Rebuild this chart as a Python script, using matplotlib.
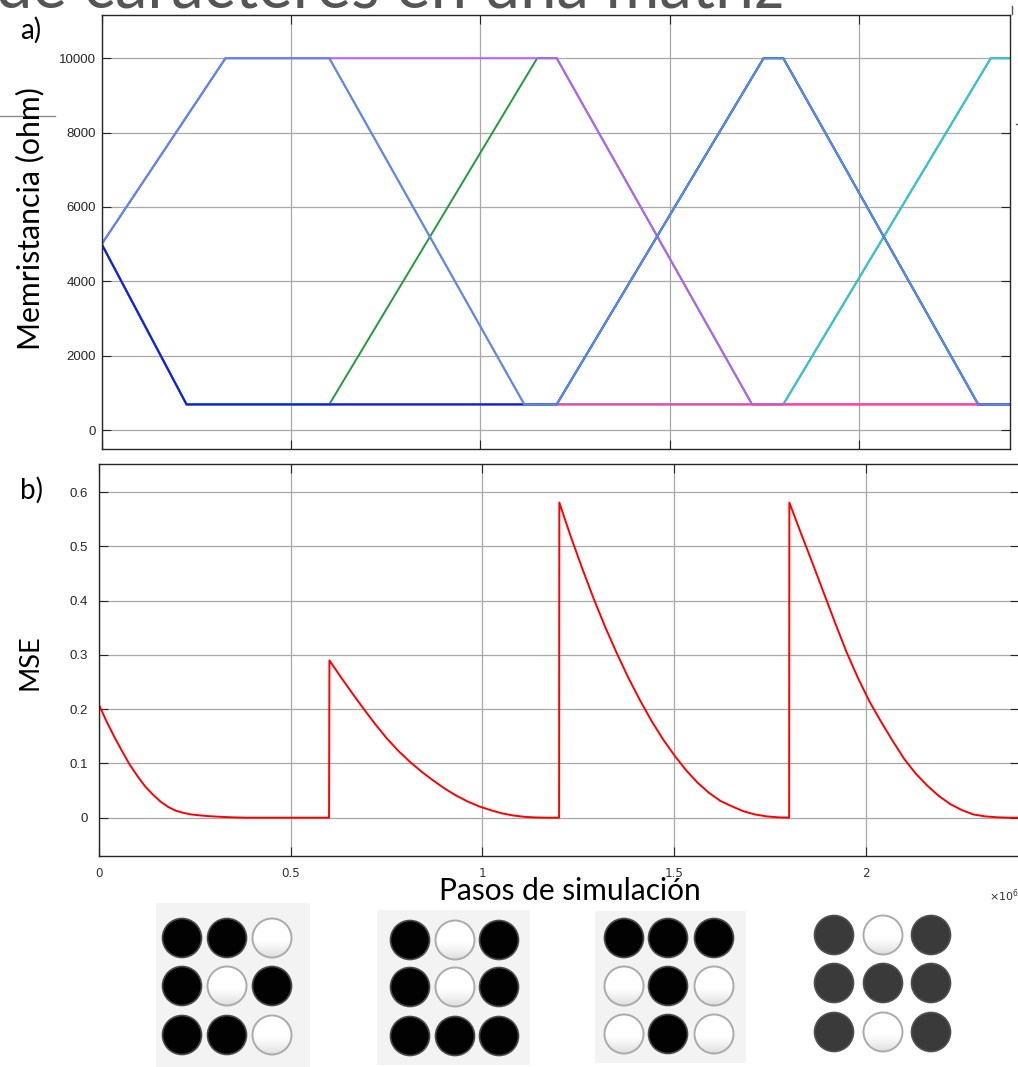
import matplotlib
matplotlib.use("Agg")
import matplotlib.pyplot as plt
import numpy as np
from matplotlib.patches import Circle, Rectangle
from matplotlib.lines import Line2D

# ---------------------------------------------------------------- data
# Simulation steps are given in units of 1e6 steps.
# Memristance trajectories of the nine memristors (3x3 grid), column-major order.
MEM_NAMES = ["m11", "m21", "m31", "m12", "m22", "m32", "m13", "m23", "m33"]
MEM_T = [
    [0, 0.224, 2.4],
    [0, 0.224, 1.2016, 1.748, 1.800, 2.3147, 2.4],
    [0, 0.224, 1.2016, 1.748, 1.800, 2.3147, 2.4],
    [0, 0.224, 0.601, 1.150, 1.2016, 1.7176, 1.800, 2.348, 2.4],
    [0, 0.327, 1.2016, 1.7176, 2.4],
    [0, 0.224, 1.800, 2.348, 2.4],
    [0, 0.327, 0.601, 1.116, 2.4],
    [0, 0.224, 1.2016, 1.748, 1.800, 2.3147, 2.4],
    [0, 0.327, 0.601, 1.116, 1.2016, 1.748, 1.800, 2.3147, 2.4],
]
MEM_R = [
    [5000, 690, 690],
    [5000, 690, 690, 10000, 10000, 690, 690],
    [5000, 690, 690, 10000, 10000, 690, 690],
    [5000, 690, 690, 10000, 10000, 690, 690, 10000, 10000],
    [5000, 10000, 10000, 690, 690],
    [5000, 690, 690, 10000, 10000],
    [5000, 10000, 10000, 690, 690],
    [5000, 690, 690, 10000, 10000, 690, 690],
    [5000, 10000, 10000, 690, 690, 10000, 10000, 690, 690],
]
MEM_COLORS = ["#e08a2c", "#d23b3b", "#c8b82a", "#229a3c", "#bd5cff",
              "#33c6dc", "#ff3fb0", "#1414ff", "#4a94f0"]

# Mean squared error during training (one block per training phase)
MSE_T1 = [0.00, 0.02, 0.04, 0.06, 0.08, 0.10, 0.12, 0.14, 0.16, 0.18,
          0.20, 0.22, 0.24, 0.26, 0.28, 0.30, 0.32, 0.34, 0.36, 0.38, 0.600]
MSE_V1 = [0.208, 0.177, 0.149, 0.123, 0.098, 0.077, 0.058, 0.043, 0.030, 0.020,
          0.013, 0.009, 0.006, 0.0045, 0.0032, 0.0023, 0.0015, 0.0009, 0.0004, 0.0, 0.0]
MSE_T2 = [0.601, 0.631, 0.661, 0.691, 0.721, 0.751, 0.781, 0.811, 0.841, 0.871,
          0.901, 0.931, 0.961, 0.991, 1.021, 1.051, 1.081, 1.111, 1.141, 1.171, 1.200]
MSE_V2 = [0.290, 0.259, 0.229, 0.200, 0.172, 0.146, 0.123, 0.103, 0.085, 0.069,
          0.054, 0.041, 0.030, 0.021, 0.014, 0.008, 0.004, 0.0015, 0.0004, 0.0, 0.0]
MSE_T3 = [1.2006, 1.2306, 1.2606, 1.2906, 1.3206, 1.3506, 1.3806, 1.4106, 1.4406, 1.4706,
          1.5006, 1.5306, 1.5606, 1.5906, 1.6206, 1.6506, 1.6806, 1.7106, 1.7406, 1.7706, 1.800]
MSE_V3 = [0.581, 0.518, 0.459, 0.403, 0.351, 0.303, 0.258, 0.217, 0.179, 0.145,
          0.115, 0.088, 0.065, 0.046, 0.031, 0.021, 0.012, 0.006, 0.0025, 0.0007, 0.0]
MSE_T4 = [1.8005, 1.8305, 1.8605, 1.8905, 1.9205, 1.9505, 1.9805, 2.0105, 2.0405, 2.0705,
          2.1005, 2.1305, 2.1605, 2.1905, 2.2205, 2.2505, 2.2805, 2.3105, 2.3405, 2.3705, 2.400]
MSE_V4 = [0.581, 0.525, 0.470, 0.414, 0.358, 0.304, 0.256, 0.213, 0.176, 0.141,
          0.108, 0.081, 0.059, 0.040, 0.025, 0.014, 0.006, 0.0025, 0.0008, 0.0, 0.0]

X_TICKS = [0, 0.5, 1, 1.5, 2]
X_TICK_LABELS = ["0", "0.5", "1", "1.5", "2"]
R_TICKS = [0, 2000, 4000, 6000, 8000, 10000]
MSE_TICKS = [0, 0.1, 0.2, 0.3, 0.4, 0.5, 0.6]
MSE_TICK_LABELS = ["0", "0.1", "0.2", "0.3", "0.4", "0.5", "0.6"]

# Training patterns (1 = filled, 0 = empty), one per training phase
PATTERNS = [
    [[1, 1, 0], [1, 0, 1], [1, 1, 0]],
    [[1, 0, 1], [1, 0, 1], [1, 1, 1]],
    [[1, 1, 1], [0, 1, 0], [0, 1, 0]],
    [[1, 0, 1], [1, 1, 1], [1, 0, 1]],
]
PATTERN_FILL = ["#020202", "#020202", "#020202", "#3a3a3a"]

# ---------------------------------------------------------------- figure
W, H = 1018, 1067
fig = plt.figure(figsize=(W / 100, H / 100), dpi=100)
fig.patch.set_facecolor("white")


def fx(px):
    return px / W


def fy(py):
    return 1 - py / H


AX_COLOR = "#262626"
GRID_COLOR = "#a8a8a8"
TICK_FONT = "Liberation Sans"
LABEL_FONT = "Lato"


def style_axes(ax):
    for s in ax.spines.values():
        s.set_color(AX_COLOR)
        s.set_linewidth(1.0)
    ax.tick_params(direction="in", length=6.5, width=0.8, colors=AX_COLOR,
                   top=True, right=True, labelsize=9.5)
    ax.grid(True, color=GRID_COLOR, linewidth=0.9)
    ax.set_axisbelow(True)
    for lab in ax.get_yticklabels():
        lab.set_fontfamily(TICK_FONT)


# panel a: memristance
ax_a = fig.add_axes([fx(101.7), fy(449), fx(1010.5 - 101.7), (449 - 14.7) / H])
for t, r, c in zip(MEM_T, MEM_R, MEM_COLORS):
    ax_a.plot(t, r, color=c, linewidth=1.4, solid_joinstyle="miter")
ax_a.set_xlim(0, 2.4)
ax_a.set_ylim(-510, 11170)
ax_a.set_xticks(X_TICKS)
ax_a.set_xticklabels([])
ax_a.set_yticks(R_TICKS)
ax_a.set_yticklabels([str(v) for v in R_TICKS])
style_axes(ax_a)
ax_a.tick_params(axis="y", pad=4)

# panel b: MSE
ax_b = fig.add_axes([fx(99), fy(856), fx(1019.2 - 99), (856 - 464) / H])
mse_t = MSE_T1 + MSE_T2 + MSE_T3 + MSE_T4
mse_v = MSE_V1 + MSE_V2 + MSE_V3 + MSE_V4
ax_b.plot(mse_t, mse_v, color="#ff0000", linewidth=1.4)
ax_b.set_xlim(0, 2.4)
ax_b.set_ylim(-0.0706, 0.652)
ax_b.set_xticks(X_TICKS)
ax_b.set_xticklabels(X_TICK_LABELS)
ax_b.set_yticks(MSE_TICKS)
ax_b.set_yticklabels(MSE_TICK_LABELS)
style_axes(ax_b)
ax_b.tick_params(axis="y", pad=8)
ax_b.tick_params(axis="x", pad=8, labelsize=9.5)
for lab in ax_b.get_xticklabels():
    lab.set_fontfamily("DejaVu Sans")
    lab.set_fontstretch("condensed")
    lab.set_color("#333333")

fig.text(fx(989), fy(896), r"$\times10^{6}$", fontsize=8, color="#333333",
         ha="left", va="center")

# text labels
fig.text(fx(30), fy(219), "Memristancia (ohm)", rotation=90, ha="center",
         va="center", fontsize=21.8, family=LABEL_FONT, color="black")
fig.text(fx(30), fy(662), "MSE", rotation=90, ha="center", va="center",
         fontsize=19.5, family=LABEL_FONT, color="black")
fig.text(fx(570), fy(891), "Pasos de simulación", ha="center", va="center",
         fontsize=21.5, family=LABEL_FONT, color="black")
fig.text(fx(31), fy(30), "a)", ha="center", va="center", fontsize=20,
         family=LABEL_FONT, color="black")
fig.text(fx(31), fy(490), "b)", ha="center", va="center", fontsize=20,
         family=LABEL_FONT, color="black")
# heading of the slide, mostly above the page edge
fig.text(fx(-4), fy(7), "de caracteres en una matriz", ha="left",
         va="baseline", fontsize=47, family=LABEL_FONT, fontweight="normal",
         color="#555555")

# stray strokes at the page margins
fig.add_artist(Line2D([0, fx(55)], [fy(115.7), fy(115.7)], color="#8c8c8c", lw=1))
fig.add_artist(Line2D([fx(1012), fx(1012)], [fy(6), fy(14)], color="#555555", lw=1))
fig.add_artist(Line2D([fx(1015.5), fx(1018)], [fy(124), fy(124)], color="#555555", lw=1))

# ---------------------------------------------------------------- pattern tiles
ax_p = fig.add_axes([0, 0, 1, 1])
ax_p.set_xlim(0, W)
ax_p.set_ylim(H, 0)
ax_p.axis("off")

TILE_BG = [(156, 903, 310, 1067), (377, 910, 530, 1065), (595, 911, 746, 1063), None]
TILE_COLS = [[182, 227, 272], [410, 455, 499], [624, 668, 714], [834, 883, 931]]
TILE_ROWS = [[938, 986, 1035], [940, 987, 1036], [938, 986, 1034], [935, 983, 1032]]
RADIUS = 19.5

shade = 1 - 0.13 * np.clip((np.linspace(0, 1, 64) - 0.5) / 0.5, 0, 1) ** 1.5
shade_img = np.repeat(shade[:, None], 2, axis=1)

for k, pat in enumerate(PATTERNS):
    bg = TILE_BG[k]
    if bg is not None:
        ax_p.add_patch(Rectangle((bg[0], bg[1]), bg[2] - bg[0], bg[3] - bg[1],
                                 facecolor="#f3f3f3", edgecolor="none", zorder=1))
    for i, row in enumerate(pat):
        for j, on in enumerate(row):
            cx, cy = TILE_COLS[k][j], TILE_ROWS[k][i]
            if on:
                ax_p.add_patch(Circle((cx, cy), RADIUS, facecolor=PATTERN_FILL[k],
                                      edgecolor="#4a4a4a" if k < 3 else "#505050",
                                      linewidth=1.2, zorder=3))
            else:
                ring = Circle((cx, cy), RADIUS, facecolor="none", edgecolor="#ababab",
                              linewidth=1.4, zorder=4)
                im = ax_p.imshow(shade_img, cmap="gray", vmin=0, vmax=1,
                                 extent=(cx - RADIUS, cx + RADIUS, cy + RADIUS, cy - RADIUS),
                                 interpolation="bilinear", zorder=3, aspect="auto")
                ax_p.add_patch(ring)
                im.set_clip_path(ring)
ax_p.set_xlim(0, W)
ax_p.set_ylim(H, 0)

fig.savefig("out.png", dpi=100, facecolor="white")
